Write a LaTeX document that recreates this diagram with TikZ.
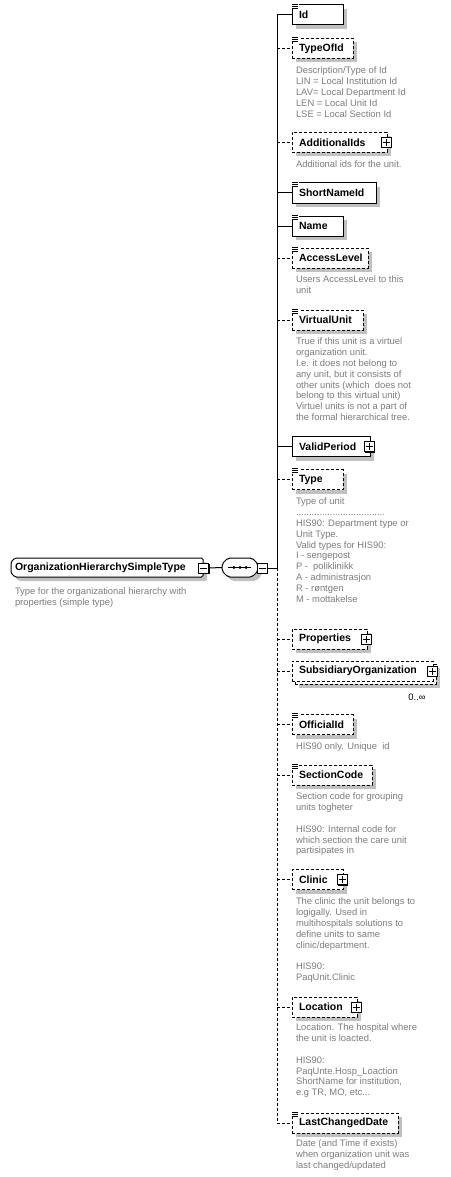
\documentclass[tikz,border=0pt]{standalone}
\usepackage{fontspec}
\setmainfont{Liberation Sans}
\usetikzlibrary{shadows,calc}
\definecolor{descgray}{RGB}{125,125,125}
\definecolor{shadowgray}{RGB}{192,192,192}
\newcommand\namefont{\fontsize{10.5}{12}\selectfont\bfseries}
\newcommand\descfont{\fontsize{9.4}{10.8}\selectfont}
\begin{document}
\begin{tikzpicture}[x=1pt,y=-1pt,
  every node/.style={inner sep=0pt, outer sep=0pt},
  ln/.style={line width=1pt, draw=black},
  optline/.style={dash pattern=on 3pt off 2pt},
  elem/.style={draw=black, line width=1pt, fill=white, anchor=west,
    minimum height=20pt, text width=#1, inner xsep=7pt, inner ysep=0pt,
    align=left, font=\namefont},
  sh/.style={drop shadow={shadow xshift=4pt, shadow yshift=-4pt, fill=shadowgray, opacity=1}},
  optbox/.style={dash pattern=on 3pt off 2pt},
  desc/.style={anchor=north west, align=left, font=\descfont, text=descgray},
  plusicon/.style={draw=black, line width=1pt, fill=white, minimum size=10pt,
    drop shadow={shadow xshift=1pt, shadow yshift=-1pt, fill=black, opacity=1},
    path picture={\draw[line width=1pt] (path picture bounding box.center) ++(-3.5,0) -- ++(7,0)
      (path picture bounding box.center) ++(0,-3.5) -- ++(0,7);}},
  minusicon/.style={draw=black, line width=1pt, fill=white, minimum size=10pt,
    drop shadow={shadow xshift=1pt, shadow yshift=-1pt, fill=black, opacity=1},
    path picture={\draw[line width=1pt] (path picture bounding box.center) ++(-3.5,0) -- ++(7,0);}},
  eqmark/.pic={\fill[white] (-1,-2) rectangle (7,4);
    \draw[line width=0.8pt] (0,-1) -- (6,-1) (0,1) -- (6,1) (0,3) -- (6,3);},
]
\useasboundingbox (0,0) rectangle (450,1177);
\fill[white] (0,0) rectangle (450,1177);

% ---------- main type ----------
\fill[shadowgray, rounded corners=1.5pt] (19,562) -- (207,562) -- (207,581) -- (19,581) -- (15,577) -- (15,566) -- cycle;
\draw[ln, fill=white, rounded corners=1.5pt] (15,558) -- (203,558) -- (203,577) -- (15,577) -- (11,573) -- (11,562) -- cycle;
\node[anchor=west, font=\namefont, text width=184pt, align=left, minimum height=19pt, inner xsep=4pt] (main) at (11,567.5) {OrganizationHierarchySimpleType};
\node[minusicon] (mainminus) at (203.5,568) {};
\node[desc] (maindesc) at (15,588) {Type for the organizational hierarchy with\\properties (simple type)};

% ---------- sequence compositor ----------
\fill[shadowgray, rounded corners=2pt] (232,562) -- (256,562) -- (262,568) -- (262,575) -- (256,581) -- (232,581) -- (226,575) -- (226,568) -- cycle;
\draw[ln, fill=white, rounded corners=2pt] (228,558) -- (252,558) -- (258,564) -- (258,571) -- (252,577) -- (228,577) -- (222,571) -- (222,564) -- cycle;
\node[minimum width=36pt, minimum height=19pt] (seq) at (240,567.5) {};
\draw[line width=1pt] ($(seq.center)+(-12,0)$) -- ($(seq.center)+(11,0)$);
\fill ($(seq.center)+(-6,0)$) circle (1.7) (seq.center) circle (1.7) ($(seq.center)+(6,0)$) circle (1.7);
\node[minusicon] (seqminus) at (262,568) {};
\coordinate (spine) at (277,568);

% ---------- child elements ----------
\node[elem=37pt, sh] (id) at (292,15) {Id};
\pic at (id.north west) {eqmark};

\node[elem=47pt, sh, optbox] (typeofid) at (292,48.5) {TypeOfId};
\pic at (typeofid.north west) {eqmark};
\node[desc] (typeofid-d) at (296,67) {Description/Type of Id\\LIN = Local Institution Id\\LAV= Local Department Id\\LEN = Local Unit Id\\LSE = Local Section Id};

\node[elem=81pt, sh, optbox] (addids) at (292,142.5) {AdditionalIds};
\node[plusicon] (addids-p) at ($(addids.east)+(-1,0)$) {};
\node[desc] (addids-d) at (296,161) {Additional ids for the unit.};

\node[elem=70pt, sh] (short) at (292,193) {ShortNameId};
\pic at (short.north west) {eqmark};

\node[elem=37pt, sh] (name) at (292,226) {Name};
\pic at (name.north west) {eqmark};

\node[elem=62pt, sh, optbox] (access) at (292,258) {AccessLevel};
\pic at (access.north west) {eqmark};
\node[desc] (access-d) at (296,276) {Users AccessLevel to this\\unit};

\node[elem=57pt, sh, optbox] (virtual) at (292,320) {VirtualUnit};
\pic at (virtual.north west) {eqmark};
\node[desc] (virtual-d) at (296,338) {True if this unit is a virtuel\\organization unit.\\I.e. it does not belong to\\any unit, but it consists of\\other units (which\ \ does not\\belong to this virtual unit)\\Virtuel units is not a part of\\the formal hierarchical tree.};

\node[elem=64pt, sh] (valid) at (292,446.5) {ValidPeriod};
\node[plusicon] (valid-p) at ($(valid.east)+(-1,0)$) {};

\node[elem=37pt, sh, optbox] (type) at (292,479.5) {Type};
\pic at (type.north west) {eqmark};
\node[desc] (type-d) at (296,498) {Type of unit\\..................................\\HIS90: Department type or\\Unit Type.\\Valid types for HIS90:\\I - sengepost\\P -\ \ poliklinikk\\A - administrasjon\\R - røntgen\\M - mottakelse};

\node[elem=61pt, sh, optbox] (props) at (292,639) {Properties};
\node[plusicon] (props-p) at ($(props.east)+(-1,0)$) {};

\node[elem=127pt, sh, optbox] (subsback) at (295,674) {\phantom{S}};
\node[elem=127pt, optbox] (subs) at (292,671) {SubsidiaryOrganization};
\node[plusicon] (subs-p) at ($(subs.east)+(-1,0)$) {};
\node[font=\descfont, text=black] (subs-m) at (417,697) {0..∞};

\node[elem=47pt, sh, optbox] (official) at (292,724.5) {OfficialId};
\pic at (official.north west) {eqmark};
\node[desc] (official-d) at (296,743) {HIS90 only. Unique\ \ id};

\node[elem=66pt, sh, optbox] (section) at (292,775) {SectionCode};
\pic at (section.north west) {eqmark};
\node[desc] (section-d) at (296,793) {Section code for grouping\\units togheter\\[10.8pt]HIS90: Internal code for\\which section the care unit\\partisipates in};

\node[elem=37pt, sh, optbox] (clinic) at (292,879.5) {Clinic};
\node[plusicon] (clinic-p) at ($(clinic.east)+(-1,0)$) {};
\node[desc] (clinic-d) at (296,898) {The clinic the unit belongs to\\logigally. Used in\\multihospitals solutions to\\define units to same\\clinic/department.\\[10.8pt]HIS90:\\PaqUnit.Clinic};

\node[elem=51pt, sh, optbox] (location) at (292,1007) {Location};
\node[plusicon] (location-p) at ($(location.east)+(-1,0)$) {};
\node[desc] (location-d) at (296,1024) {Location. The hospital where\\the unit is loacted.\\[10.8pt]HIS90:\\PaqUnte.Hosp\_Loaction\\ShortName for institution,\\e.g TR, MO, etc...};

\node[elem=92pt, sh, optbox] (lcd) at (292,1123) {LastChangedDate};
\pic at (lcd.north west) {eqmark};
\node[desc] (lcd-d) at (296,1140) {Date (and Time if exists)\\when organization unit was\\last changed/updated};

% ---------- connectors ----------
\draw[ln] (mainminus.east) -- (seq.west);
\draw[ln] (seqminus.east) -- (spine);
\draw[ln] (spine |- id.west) -- (spine);
\draw[ln, optline] (spine) -- (spine |- lcd.west);
\foreach \n in {id, short, name, valid}
  \draw[ln] (spine |- \n.west) -- (\n.west);
\foreach \n in {typeofid, addids, access, virtual, type, props, subs, official, section, clinic, location, lcd}
  \draw[ln, optline] (spine |- \n.west) -- (\n.west);
\end{tikzpicture}
\end{document}
